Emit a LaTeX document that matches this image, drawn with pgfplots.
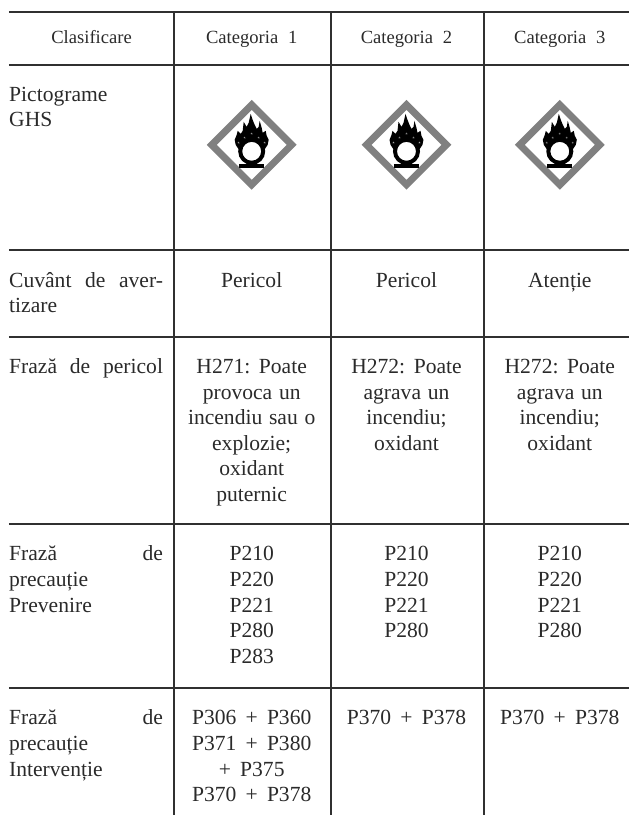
\documentclass[border=0pt]{standalone}
\usepackage{fontspec}
\setmainfont{Liberation Serif}[WordSpace=1.25]
\usepackage{pgfplots}
\usepackage{pgfplotstable}
\pgfplotsset{compat=1.18}
\definecolor{ink}{HTML}{2A2A2A}
\definecolor{rule}{HTML}{303030}
\definecolor{dgray}{HTML}{808080}
\pgfplotstableread{
x y
0 -40
40 0
0 40
-40 0
}\diamondtab
\pgfplotstableread{
x y
-12 6
-16 0
-17 -5
-15 -10
-14 -14
-11 -11
-9 -14
-8 -23
-5 -18
-3 -22
-1 -31
1 -25
3 -20
5 -16
7 -18
8 -24
10 -17
11 -12
14 -14
15 -9
17 -5
16 0
12 6
}\flametab
\pgfplotstableread{
x y
-12.5 19
12.5 19
12.5 23
-12.5 23
}\basetab
\pgfplotstableread{
x y
-4 16
4 16
4 20
-4 20
}\stemtab
\pgfplotstableread{
x y
-13 -2
-7 -7
0 -11
7 -7
13 -2
}\dotstab
\pgfplotstableread{
x y
0 6.5
}\ringtab
\newcommand\picto[1]{%
  \addplot[draw=dgray,line width=7bp,miter limit=10,no markers] table[x expr=\thisrow{x}+#1,y expr=\thisrow{y}+145]{\diamondtab} --cycle;
  \addplot[draw=none,fill=black,no markers] table[x expr=\thisrow{x}+#1,y expr=\thisrow{y}+145]{\flametab} --cycle;
  \addplot[draw=none,fill=black,no markers] table[x expr=\thisrow{x}+#1,y expr=\thisrow{y}+145]{\basetab} --cycle;
  \addplot[draw=none,fill=black,no markers] table[x expr=\thisrow{x}+#1,y expr=\thisrow{y}+145]{\stemtab} --cycle;
  \addplot[only marks,mark=*,mark size=11.5bp,mark options={draw=black,fill=white,line width=4bp}] table[x expr=\thisrow{x}+#1,y expr=\thisrow{y}+145]{\ringtab};
  \addplot[only marks,mark=*,mark size=1.1bp,mark options={draw=none,fill=white}] table[x expr=\thisrow{x}+#1,y expr=\thisrow{y}+145]{\dotstab};
}
\newcommand\hl[1]{\addplot[rule,line width=2bp,no markers] coordinates {(9,#1) (630,#1)};}
\newcommand\vl[2]{\addplot[rule,line width=2bp,no markers] coordinates {(#1,#2) (#1,816)};}
\newcommand\ct[3]{\node[anchor=base,inner sep=0pt,text=ink] at (axis cs:#1,#2) {\fontsize{21.6bp}{24bp}\selectfont #3};}
\newcommand\hd[3]{\node[anchor=base,inner sep=0pt,text=ink] at (axis cs:#1,#2) {\fontsize{18.6bp}{21bp}\selectfont #3};}
\newcommand\lf[2]{\node[anchor=base west,inner sep=0pt,text=ink] at (axis cs:9,#1) {\fontsize{21.6bp}{24bp}\selectfont #2};}
\newcommand\jf[2]{\node[anchor=base west,inner sep=0pt,text=ink] at (axis cs:9,#1) {\fontsize{21.6bp}{24bp}\selectfont\makebox[154bp][s]{#2}};}
\newcommand\pl{\hspace{2.5bp} + \hspace{2.5bp}}
\begin{document}
\begin{tikzpicture}
\begin{axis}[
  scale only axis,width=630bp,height=816bp,
  xmin=0,xmax=630,ymin=0,ymax=816,y dir=reverse,
  hide axis,clip=false]
\hl{12.5}\hl{65}\hl{250.5}\hl{337}\hl{525}\hl{688.5}
\vl{174.5}{12}\vl{331}{12}\vl{485}{12}
\picto{252}\picto{407}\picto{560.5}
\hd{91.7}{43.5}{Clasificare}
\hd{252}{43.5}{Categoria\hspace{4bp} 1}
\hd{407}{43.5}{Categoria\hspace{4bp} 2}
\hd{560.5}{43.5}{Categoria\hspace{4bp} 3}
\lf{102}{Pictograme}
\lf{127}{GHS}
\jf{287.5}{Cuvânt de aver-}
\lf{313}{tizare}
\ct{252}{287.5}{Pericol}
\ct{407}{287.5}{Pericol}
\ct{560.5}{287.5}{Atenție}
\jf{374}{Frază de pericol}
\ct{252}{374}{H271: Poate}
\ct{252}{399.6}{provoca un}
\ct{252}{425.2}{incendiu sau o}
\ct{252}{450.8}{explozie;}
\ct{252}{476.4}{oxidant}
\ct{252}{502}{puternic}
\ct{407}{374}{H272: Poate}
\ct{407}{399.6}{agrava un}
\ct{407}{425.2}{incendiu;}
\ct{407}{450.8}{oxidant}
\ct{560.5}{374}{H272: Poate}
\ct{560.5}{399.6}{agrava un}
\ct{560.5}{425.2}{incendiu;}
\ct{560.5}{450.8}{oxidant}
\jf{561.5}{Frază de}
\lf{587}{precauție}
\lf{613}{Prevenire}
\ct{252}{561.5}{P210}\ct{252}{587}{P220}\ct{252}{613}{P221}\ct{252}{638.5}{P280}\ct{252}{664}{P283}
\ct{407}{561.5}{P210}\ct{407}{587}{P220}\ct{407}{613}{P221}\ct{407}{638.5}{P280}
\ct{560.5}{561.5}{P210}\ct{560.5}{587}{P220}\ct{560.5}{613}{P221}\ct{560.5}{638.5}{P280}
\jf{725}{Frază de}
\lf{751}{precauție}
\lf{777}{Intervenție}
\ct{252}{725}{P306\pl{}P360}
\ct{252}{751}{P371\pl{}P380}
\ct{252}{777}{+\hspace{2.5bp} P375}
\ct{252}{802}{P370\pl{}P378}
\ct{407}{725}{P370\pl{}P378}
\ct{560.5}{725}{P370\pl{}P378}
\end{axis}
\path[use as bounding box] (0,0) rectangle (630bp,816bp);
\end{tikzpicture}
\end{document}
